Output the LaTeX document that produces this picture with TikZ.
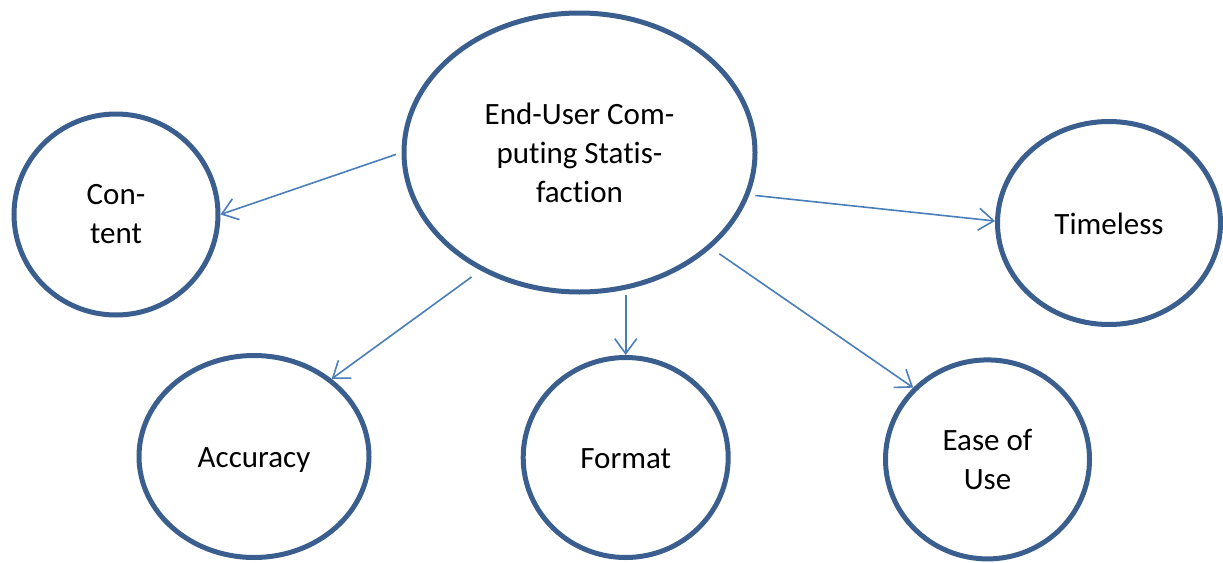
\documentclass[tikz,border=0pt]{standalone}
\usepackage{fontspec}
\setmainfont{Carlito}[Ligatures=NoCommon]
\usetikzlibrary{shapes.geometric,arrows.meta}
\definecolor{ringblue}{HTML}{3A5F8F}
\definecolor{arrowblue}{HTML}{4A7EBB}
\tikzset{
  ring/.style={ellipse, draw=ringblue, line width=5pt, inner sep=0pt, align=center,
    font=\fontsize{31}{39}\selectfont},
  oneline/.style={text height=22pt, text depth=0pt},
  arr/.style={draw=arrowblue, line width=1.6pt,
    -{Straight Barb[length=15pt,width=22pt,line width=1.6pt]}}
}
\begin{document}
\begin{tikzpicture}[x=1pt,y=-1pt]
\useasboundingbox (0,0) rectangle (1223,562);
\node[ring, minimum width=351pt, minimum height=279pt] (main) at (579.5,152.5) {End-User Com-\\puting Statis-\\faction};
\node[ring, minimum width=204pt, minimum height=201pt] (content) at (116,214.5) {Con-\\tent};
\node[ring, oneline, minimum width=223pt, minimum height=203pt] (time) at (1109,223) {Timeless};
\node[ring, oneline, minimum width=230pt, minimum height=202pt] (acc) at (254,456.5) {Accuracy};
\node[ring, oneline, minimum width=205pt, minimum height=200pt] (format) at (625.7,457.5) {Format};
\node[ring, minimum width=204pt, minimum height=199pt] (ease) at (987.5,459.4) {Ease of\\Use};
\draw[arr, shorten <=6pt] (main.180.5) -- (content.0.8);
\draw[arr, shorten <=6pt] (main.-14.8) -- (time.179);
\draw[arr, shorten <=11pt] (main.230.7) -- (acc.45.2);
\draw[arr] (format.north |- main.south) -- (format.north);
\draw[arr, shorten <=10pt] (main.-36.6) -- (ease.136);
\end{tikzpicture}
\end{document}
